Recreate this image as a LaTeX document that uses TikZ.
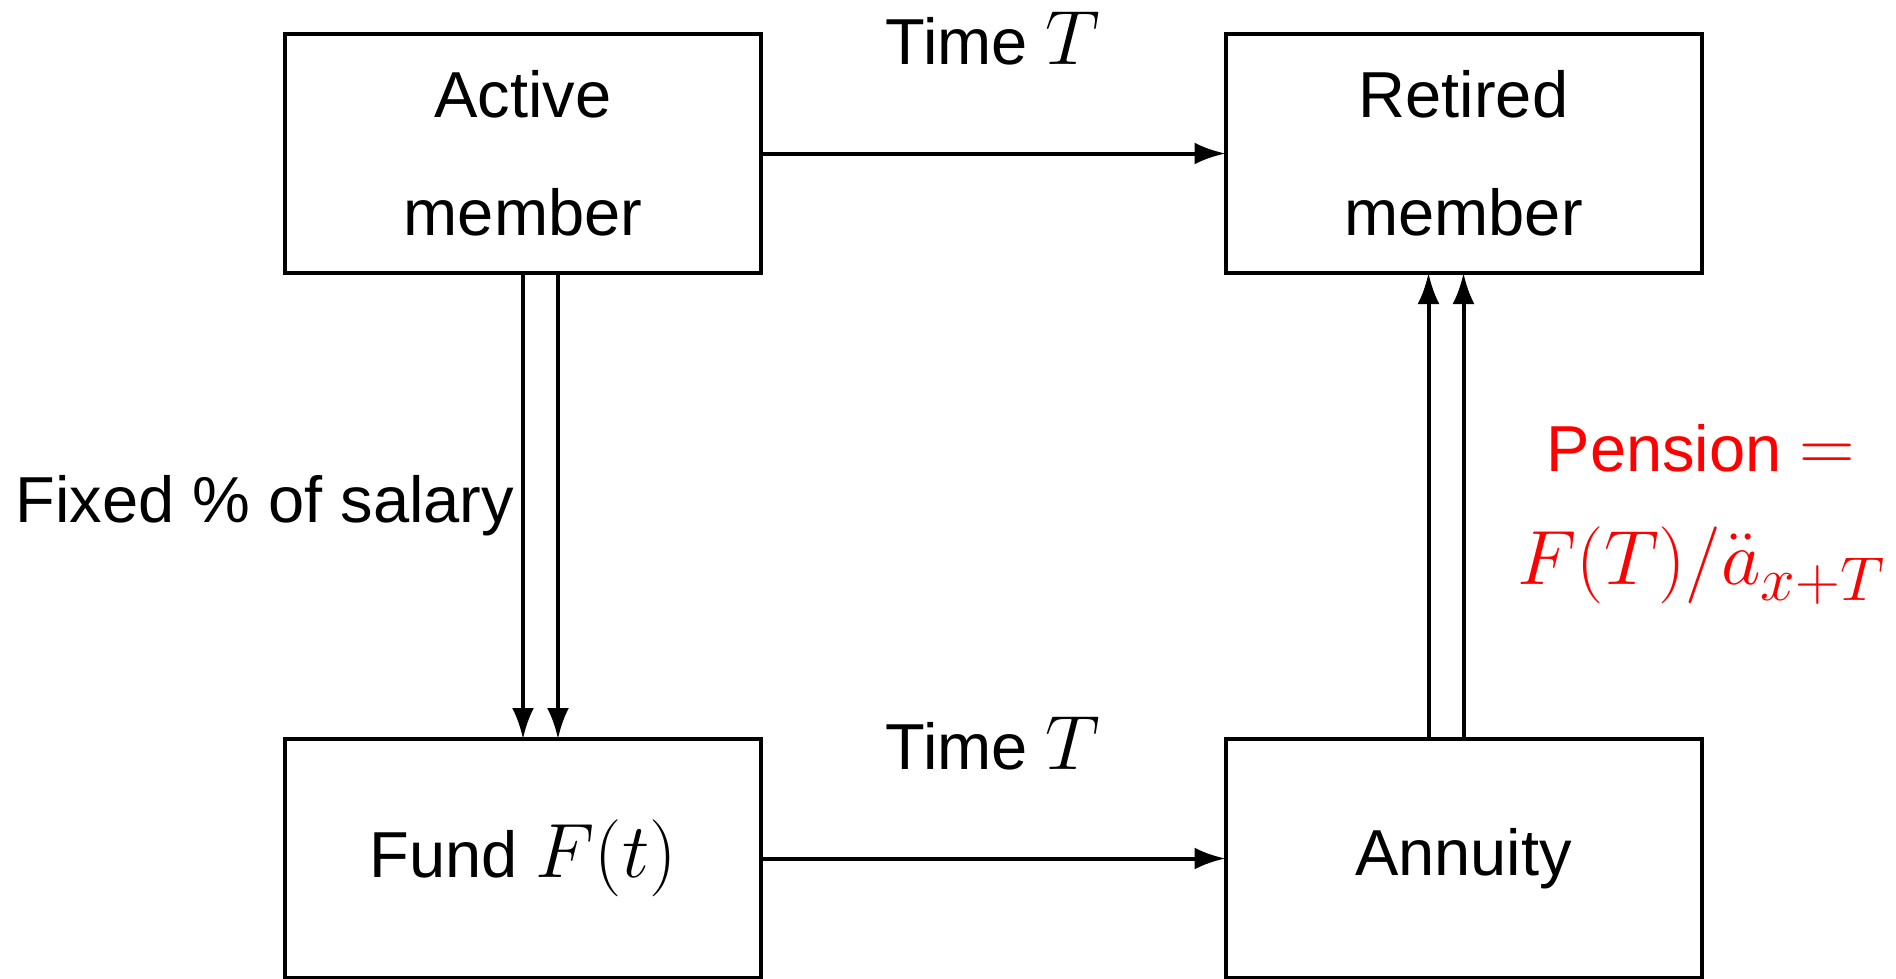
\RequirePackage{fix-cm}
\documentclass[tikz,border=0pt]{standalone}
\usepackage{fontspec}
\setmainfont{Liberation Sans}
\usetikzlibrary{arrows.meta}
\DeclareMathSizes{77}{77}{62}{46}
\newcommand{\mth}[1]{{\fontsize{77}{77}\selectfont$#1$}}
\begin{document}
\begin{tikzpicture}[x=1pt,y=-1pt,
  box/.style={draw, line width=4pt, minimum width=476pt, minimum height=239pt,
              inner sep=0pt, outer sep=0pt, align=center, font=\fontsize{65}{118}\selectfont},
  flow/.style={line width=4pt, -{Latex[length=31pt,width=22pt]}},
  lbl/.style={font=\fontsize{65}{113}\selectfont, inner sep=0pt, align=center}]
\useasboundingbox (0,0) rectangle (1896,978);
\node[box] (active)  at (523,153.5)    {Active\\member};
\node[box] (retired) at (1463.5,153.5) {Retired\\member};
\node[box] (fund)    at (523,858.5)    {Fund \mth{F(t)}};
\node[box] (annuity) at (1463.5,858.5) {Annuity};
\draw[flow] (active.east) -- node[lbl, yshift=115pt] (t1) {Time \mth{T}} (retired.west);
\draw[flow] (fund.east) -- node[lbl, yshift=115pt] (t2) {Time \mth{T}} (annuity.west);
\draw[flow] (active.south) -- node[lbl, anchor=east, xshift=-7pt] (fixed) {Fixed \% of salary} (fund.north);
\draw[flow] ([xshift=35pt]active.south) -- ([xshift=35pt]fund.north);
\draw[flow] ([xshift=-35pt]annuity.north) -- ([xshift=-35pt]retired.south);
\draw[flow] (annuity.north) -- node[lbl, text=red, anchor=west, xshift=52pt, yshift=-8pt] (pension)
  {Pension \mth{=}\\\mth{F(T)/\ddot{a}_{x+T}}} (retired.south);
\end{tikzpicture}
\end{document}
